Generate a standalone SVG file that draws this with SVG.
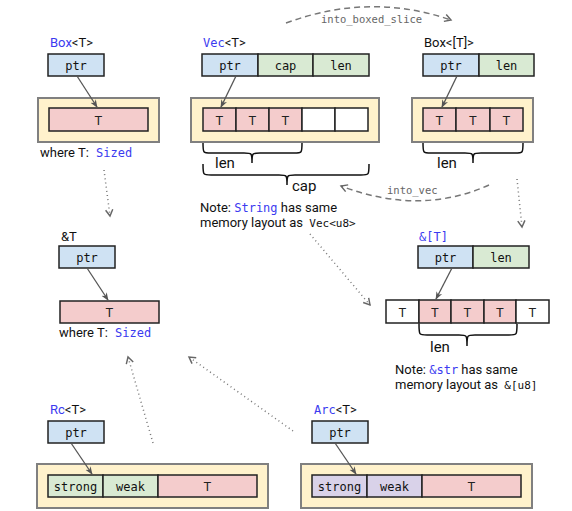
<svg xmlns="http://www.w3.org/2000/svg" width="572" height="511" viewBox="0 0 572 511">
<defs>
<style>
.sans{font-family:Roboto,"Liberation Sans",sans-serif;fill:#111}
.mono{font-family:"DejaVu Sans Mono","Liberation Mono",monospace;fill:#111}
.kw{fill:#3b3bf0}
.lbl{font-size:13px}
.cell{font-size:12px;text-anchor:middle}
.tcell{font-size:13px;text-anchor:middle;font-family:Roboto,"Liberation Sans",sans-serif;fill:#222}
.outer{fill:#fff2cc;stroke:#808080;stroke-width:2}
.b{stroke:#222;stroke-width:1.5}
.ptr{fill:#cfe2f3}
.grn{fill:#d9ead3}
.pnk{fill:#f4cccc}
.lav{fill:#d9d2e9}
.wht{fill:#ffffff}
.arr{stroke:#555;stroke-width:1.3;fill:none;marker-end:url(#ah)}
.dot{stroke:#777;stroke-width:1.5;fill:none;stroke-dasharray:1 3.2;marker-end:url(#av)}
.dash{stroke:#777;stroke-width:1.5;fill:none;stroke-dasharray:6 4;marker-end:url(#av)}
.brace{stroke:#111;stroke-width:1.5;fill:none}
.note{font-size:13px}
.edge{font-size:10.5px;fill:#666;font-family:"DejaVu Sans Mono","Liberation Mono",monospace}
.big{font-size:15px}
</style>
<marker id="ah" viewBox="0 0 10 10" refX="9" refY="5" markerWidth="8" markerHeight="8" markerUnits="userSpaceOnUse" orient="auto">
<path d="M0,1 L10,5 L0,9 L3,5 z" fill="#555"/>
</marker>
<marker id="av" viewBox="0 0 10 10" refX="8" refY="5" markerWidth="9" markerHeight="9" markerUnits="userSpaceOnUse" orient="auto">
<path d="M1,1 L8,5 L1,9" fill="none" stroke="#666" stroke-width="1.6"/>
</marker>
</defs>
<rect width="572" height="511" fill="#ffffff"/>

<g id="box_t">
<text class="sans lbl" x="50" y="47"><tspan class="kw">Box</tspan>&lt;T&gt;</text>
<rect class="ptr b" x="48" y="54" width="56" height="22"/>
<text class="mono cell" x="76" y="69.5">ptr</text>
<rect class="outer" x="38" y="98" width="121" height="44"/>
<rect class="pnk b" x="49" y="108" width="99" height="23"/>
<text class="tcell" x="98.5" y="124.5">T</text>
<text class="sans lbl" x="40" y="157">where T: <tspan class="mono kw" font-size="12" dx="4">Sized</tspan></text>
</g>

<g id="vec_t">
<text class="sans lbl" x="203" y="47"><tspan class="mono kw" font-size="12">Vec</tspan>&lt;T&gt;</text>
<rect class="ptr b" x="202" y="54" width="56" height="22"/>
<rect class="grn b" x="258" y="54" width="55" height="22"/>
<rect class="grn b" x="313" y="54" width="56" height="22"/>
<text class="mono cell" x="230" y="69.5">ptr</text>
<text class="mono cell" x="285.5" y="69.5">cap</text>
<text class="mono cell" x="341" y="69.5">len</text>
<rect class="outer" x="191" y="98" width="188" height="44"/>
<rect class="pnk b" x="203" y="108" width="33" height="23"/>
<rect class="pnk b" x="236" y="108" width="33" height="23"/>
<rect class="pnk b" x="269" y="108" width="33" height="23"/>
<rect class="wht b" x="302" y="108" width="33" height="23"/>
<rect class="wht b" x="335" y="108" width="33" height="23"/>
<text class="tcell" x="219.5" y="124.5">T</text>
<text class="tcell" x="252.5" y="124.5">T</text>
<text class="tcell" x="285.5" y="124.5">T</text>
<path class="brace" d="M203,143 C203,153 203,153 211,153 L244,153 C252,153 252,153 252,163 C252,153 252,153 260,153 L294,153 C302,153 302,153 302,143"/>
<text class="sans big" x="215" y="168">len</text>
<path class="brace" d="M203,164 C203,175 203,175 211,175 L279,175 C287,175 287,175 287,185 C287,175 287,175 295,175 L361,175 C369,175 369,175 369,164"/>
<text class="sans big" x="292" y="191">cap</text>
<text class="sans note" x="200" y="212">Note: <tspan class="mono kw" font-size="12">String</tspan> has same</text>
<text class="sans note" x="200" y="227">memory layout as <tspan class="mono" font-size="11" fill="#333" dx="3">Vec&lt;u8&gt;</tspan></text>
</g>

<g id="box_slice">
<text class="sans lbl" x="424" y="47">Box&lt;[T]&gt;</text>
<rect class="ptr b" x="423" y="54" width="56" height="22"/>
<rect class="grn b" x="479" y="54" width="55" height="22"/>
<text class="mono cell" x="451" y="69.5">ptr</text>
<text class="mono cell" x="506.5" y="69.5">len</text>
<rect class="outer" x="412" y="98" width="121" height="44"/>
<rect class="pnk b" x="423" y="108" width="33" height="23"/>
<rect class="pnk b" x="456" y="108" width="34" height="23"/>
<rect class="pnk b" x="490" y="108" width="33" height="23"/>
<text class="tcell" x="439.5" y="124.5">T</text>
<text class="tcell" x="473" y="124.5">T</text>
<text class="tcell" x="506.5" y="124.5">T</text>
<path class="brace" d="M423,143 C423,153 423,153 431,153 L465,153 C473,153 473,153 473,163 C473,153 473,153 481,153 L515,153 C523,153 523,153 523,143"/>
<text class="sans big" x="437" y="168">len</text>
</g>

<g id="ref_t">
<text class="sans lbl" x="61" y="241">&amp;T</text>
<rect class="ptr b" x="59" y="246" width="56" height="22"/>
<text class="mono cell" x="87" y="261.5">ptr</text>
<rect class="pnk b" x="60" y="301" width="99" height="22"/>
<text class="tcell" x="109.5" y="317">T</text>
<text class="sans lbl" x="59" y="337">where T: <tspan class="mono kw" font-size="12" dx="4">Sized</tspan></text>
</g>

<g id="ref_slice">
<text class="mono kw" font-size="12" x="419" y="241">&amp;[T]</text>
<rect class="ptr b" x="418" y="246" width="55" height="22"/>
<rect class="grn b" x="473" y="246" width="56" height="22"/>
<text class="mono cell" x="445.5" y="261.5">ptr</text>
<text class="mono cell" x="501" y="261.5">len</text>
<rect class="wht b" x="386" y="300" width="33" height="23"/>
<rect class="pnk b" x="419" y="300" width="32" height="23"/>
<rect class="pnk b" x="451" y="300" width="33" height="23"/>
<rect class="pnk b" x="484" y="300" width="32" height="23"/>
<rect class="wht b" x="516" y="300" width="33" height="23"/>
<text class="tcell" x="402.5" y="316.5">T</text>
<text class="tcell" x="435" y="316.5">T</text>
<text class="tcell" x="467.5" y="316.5">T</text>
<text class="tcell" x="500" y="316.5">T</text>
<text class="tcell" x="532.5" y="316.5">T</text>
<path class="brace" d="M419,324 C419,335 419,335 427,335 L459,335 C467,335 467,335 467,346 C467,335 467,335 475,335 L509,335 C517,335 517,335 517,324"/>
<text class="sans big" x="430" y="352">len</text>
<text class="sans note" x="395" y="374">Note: <tspan class="mono kw" font-size="12">&amp;str</tspan> has same</text>
<text class="sans note" x="395" y="389">memory layout as <tspan class="mono" font-size="11" fill="#333" dx="3">&amp;[u8]</tspan></text>
</g>

<g id="rc_t">
<text class="sans lbl" x="50" y="414"><tspan class="kw">Rc</tspan>&lt;T&gt;</text>
<rect class="ptr b" x="48" y="421" width="56" height="22"/>
<text class="mono cell" x="76" y="436.5">ptr</text>
<rect class="outer" x="37" y="464" width="231" height="44"/>
<rect class="grn b" x="48" y="475" width="55" height="22"/>
<rect class="grn b" x="103" y="475" width="55" height="22"/>
<rect class="pnk b" x="158" y="475" width="99" height="22"/>
<text class="mono cell" x="75.5" y="490.5">strong</text>
<text class="mono cell" x="130.5" y="490.5">weak</text>
<text class="tcell" x="207.5" y="491">T</text>
</g>

<g id="arc_t">
<text class="sans lbl" x="314" y="414"><tspan class="mono kw" font-size="12">Arc</tspan>&lt;T&gt;</text>
<rect class="ptr b" x="312" y="421" width="56" height="22"/>
<text class="mono cell" x="340" y="436.5">ptr</text>
<rect class="outer" x="301" y="464" width="231" height="44"/>
<rect class="lav b" x="312" y="475" width="55" height="22"/>
<rect class="lav b" x="367" y="475" width="55" height="22"/>
<rect class="pnk b" x="422" y="475" width="99" height="22"/>
<text class="mono cell" x="339.5" y="490.5">strong</text>
<text class="mono cell" x="394.5" y="490.5">weak</text>
<text class="tcell" x="471.5" y="491">T</text>
</g>

<g id="connectors">
<path class="arr" d="M77,76 L97,107"/>
<path class="arr" d="M236,76 L221,107"/>
<path class="arr" d="M457,76 L442,107"/>
<path class="arr" d="M87,268 L108,300"/>
<path class="arr" d="M452,268 L436,299"/>
<path class="arr" d="M71,443 L92,474"/>
<path class="arr" d="M335,443 L356,474"/>
<path class="dot" d="M104,170 L110,216"/>
<path class="dot" d="M517,179 L522,227"/>
<path class="dot" d="M310,234 L370,305"/>
<path class="dot" d="M153,443 L128,357"/>
<path class="dot" d="M293,431 L189,357"/>
<path class="dash" d="M286,23 Q370,-8 451,20"/>
<path class="dash" d="M489,185 Q420,216 341,186"/>
<text class="edge" x="321" y="23">into_boxed_slice</text>
<text class="edge" x="387" y="194">into_vec</text>
</g>
</svg>
